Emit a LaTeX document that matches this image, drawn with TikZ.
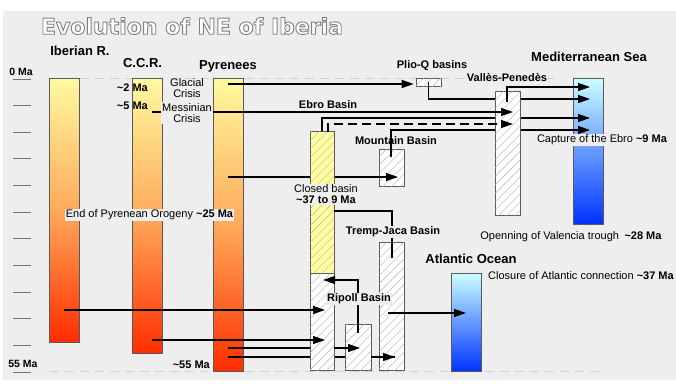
\documentclass[tikz,border=0pt]{standalone}
\usepackage{fontspec}
\setmainfont{Liberation Sans}
\newfontfamily\titlefont{DejaVu Sans}
\usetikzlibrary{arrows.meta,patterns.meta,calc}
\definecolor{bgc}{RGB}{238,238,238}
\definecolor{ytop}{RGB}{255,250,160}
\definecolor{ymid}{RGB}{255,170,90}
\definecolor{rbot}{RGB}{255,45,0}
\definecolor{btop}{RGB}{204,255,255}
\definecolor{bbot}{RGB}{0,51,255}
\definecolor{hyel}{RGB}{255,255,160}
\newcommand{\ttl}{\titlefont\bfseries\fontsize{22}{24}\selectfont Evolution of NE of Iberia}
\newcommand{\outl}[1]{\special{pdf:literal direct 0.5 G 0.9 w 2 Tr}#1\special{pdf:literal direct 0 Tr}}
\newcommand{\tl}{\textasciitilde}
\tikzset{
  bar/.style={draw=black!65, line width=0.7pt, inner sep=0pt, minimum width=30pt},
  hotbar/.style={bar, top color=ytop, bottom color=rbot, middle color=ymid},
  seabar/.style={bar, top color=btop, bottom color=bbot},
  basin/.style={draw=black!65, line width=0.7pt, inner sep=0pt, minimum width=25pt,
    fill=white, postaction={pattern={Lines[angle=45,distance=6pt,line width=0.4pt]},
    pattern color=black!30}},
  ln/.style={line width=1.3pt},
  arr/.style={ln, -{Triangle[length=12pt,width=8pt]}},
  big/.style={font=\fontsize{13}{15}\selectfont\bfseries, inner sep=1pt},
  lbl/.style={font=\fontsize{11}{12}\selectfont\bfseries, inner sep=1pt},
  txt/.style={font=\fontsize{11}{12.5}\selectfont, inner sep=1pt, align=center},
  mask/.style={fill=bgc},
  guide/.style={draw=black!18, line width=1pt, dash pattern=on 9pt off 6pt},
  tick/.style={draw=black!55, line width=1pt},
}
\begin{document}
\begin{tikzpicture}[x=1pt,y=-1pt]
  \useasboundingbox (0,0) rectangle (676,383);
  \fill[bgc] (3,11) rectangle (676,380);

  % title
  \node[text=white] (title) at (192,26) {\outl{\ttl}};

  % time axis
  \draw[guide] (50,78) -- (560,78);
  \draw[guide] (50,371) -- (600,371);
  \foreach \i in {0,...,11}
    \draw[tick] (13,{79+26.65*\i}) -- (31,{79+26.65*\i});
  \node[lbl, font=\fontsize{10.5}{12}\selectfont\bfseries] (ma0) at (21,72) {0 Ma};
  \node[lbl, font=\fontsize{10.5}{12}\selectfont\bfseries] (ma55) at (23,364) {55 Ma};

  % source bars
  \node[hotbar, minimum height=264pt] (ib) at (64,210) {};
  \node[hotbar, minimum height=275pt] (ccr) at (147,215.5) {};
  \node[hotbar, minimum height=293pt] (py) at (228.5,224.5) {};
  \node[big] (ibl) at (80,51) {Iberian R.};
  \node[big] (ccrl) at (142.5,63) {C.C.R.};
  \node[big] (pyl) at (228,66) {Pyrenees};

  % sinks
  \node[seabar, minimum height=146pt] (med) at (588,151) {};
  \node[seabar, minimum height=98pt] (atl) at (466,322) {};
  \node[big] (medl) at (589,57) {Mediterranean Sea};
  \node[big] (atll) at (471,259) {Atlantic Ocean};

  % basins that hide nothing
  \node[basin, minimum height=8pt] (pq) at (428.5,82) {};
  \node[basin, minimum height=37pt] (mb) at (391.5,167.5) {};
  \node[basin, minimum height=128pt] (tj) at (391.5,306) {};

  % line ends
  \coordinate (gl) at (228,84);
  \coordinate (ms) at (152,112);
  \coordinate (cbA) at (322,131);
  \coordinate (cbB) at (328,132);
  \coordinate (mbA) at (391,157);
  \coordinate (vpA) at (507,102);
  \coordinate (pyM) at (228,177);
  \coordinate (mbT) at (398,177);
  \coordinate (ibR) at (64,310);
  \coordinate (ccR) at (152,340);
  \coordinate (pyA) at (228,348);
  \coordinate (pyB) at (228,357);
  \coordinate (sbA) at (358,333);
  \coordinate (tjA) at (392,258);
  \coordinate (tjB) at (388,313);
  \coordinate (cbE) at (334,211);
  \coordinate (md1) at (590,87);
  \coordinate (md2) at (590,99);
  \coordinate (md3) at (590,118);
  \coordinate (md4) at (590,130);
  \coordinate (vp1) at (513,112);
  \coordinate (vp2) at (513,124);
  \coordinate (rl1) at (325,310);
  \coordinate (rl2) at (325,340);
  \coordinate (rl3) at (323,280);
  \coordinate (sbT) at (360,348);
  \coordinate (tjT) at (395,357);

  % lines running under the basins
  \draw[arr] (pq.center) |- (md2);
  \draw[arr] (cbA) |- (md3);
  \draw[arr] (mbA) |- (md4);
  \draw[arr] (pyM) -- (mbT);
  \draw[ln] (pyA) -- (sbT);
  \draw[ln] (pyB) -- (tjT);

  \node[basin, fill=hyel, minimum width=24pt, minimum height=142pt] (cb) at (322,202) {};
  \node[basin, minimum height=124pt] (vp) at (507.5,153) {};
  \node[basin, minimum width=24pt, minimum height=97pt] (rl) at (322,321.5) {};
  \node[basin, minimum width=26pt, minimum height=46pt] (sb) at (358,347) {};

  % lines on top
  \draw[arr, shorten >=2pt] (gl) -- (gl -| pq.west);
  \draw[arr] (ms) -- (vp1);
  \draw[arr, dash pattern=on 9pt off 5pt] (cbB) |- (vp2);
  \draw[arr] (vpA) |- (md1);
  \draw[arr] (ibR) -- (rl1);
  \draw[arr] (ccR) -- (rl2);
  \draw[arr] (pyA -| rl.east) -- (sbT);
  \draw[arr] (pyB -| sb.east) -- (tjT);
  \draw[arr] (sbA) |- (rl3);
  \draw[arr] (tjB) -- (tjB -| atl.center);
  \draw[ln] (tjA) |- (cbE);

  % labels
  \node[lbl, anchor=east] (m2) at (149,88) {\tl2 Ma};
  \node[lbl, anchor=east] (m5) at (149,106) {\tl5 Ma};
  \node[txt] (glc) at (187,88) {Glacial\\[-1.5pt]Crisis};
  \node[txt, mask] (msc) at (187,113) {Messinian\\[-1.5pt]Crisis};
  \node[lbl] (pql) at (432,66) {Plio-Q basins};
  \node[lbl] (vpl) at (507,78) {Vallès-Penedès};
  \node[lbl] (ebl) at (328,105) {Ebro Basin};
  \node[lbl] (mbl) at (396,141) {Mountain Basin};
  \node[lbl, mask] (tjl) at (393,232) {Tremp-Jaca Basin};
  \node[lbl, mask] (rll) at (359,299) {Ripoll Basin};
  \node[txt, mask] (cbl) at (326,194.5) {Closed basin\\[-1.5pt]\textbf{\tl37 to 9 Ma}};
  \node[txt, mask] (epo) at (149.5,215) {End of Pyrenean Orogeny \textbf{\tl25 Ma}};
  \node[txt, mask] (cap) at (602,140) {Capture of the Ebro \textbf{\tl9 Ma}};
  \node[txt] (opv) at (571,237) {Openning of Valencia trough\enspace\textbf{\tl28 Ma}};
  \node[txt, anchor=west] (cla) at (487,276) {Closure of Atlantic connection \textbf{\tl37 Ma}};
  \node[lbl, anchor=east] (m55) at (211,365) {\tl55 Ma};
\end{tikzpicture}
\end{document}
